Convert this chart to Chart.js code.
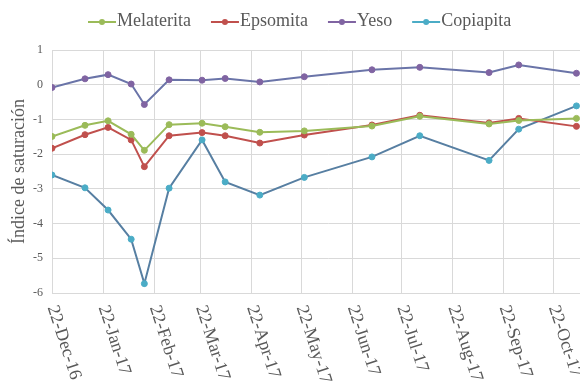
<!DOCTYPE html>
<html>
<head>
<meta charset="utf-8">
<script src="https://cdn.jsdelivr.net/npm/chart.js@4/dist/chart.umd.min.js"></script>
<style>
  body { margin: 0; overflow: hidden; background: #fff; }
  #wrap { position: relative; width: 620px; height: 385px; }
</style>
</head>
<body>
<div id="wrap"><canvas id="satChart"></canvas></div>
<script>
// sampling dates
const sampleDates = ['2016-12-22', '2017-01-11', '2017-01-25', '2017-02-08', '2017-02-16', '2017-03-03',
    '2017-03-23', '2017-04-06', '2017-04-27', '2017-05-24', '2017-07-04', '2017-08-02',
    '2017-09-13', '2017-10-01', '2017-11-05'];

// saturation index per mineral
const melaterita = [-1.49, -1.17, -1.04, -1.43, -1.89, -1.15, -1.11, -1.21, -1.37, -1.33, -1.19, -0.91, -1.13, -1.03, -0.97];
const epsomita = [-1.83, -1.44, -1.23, -1.59, -2.36, -1.47, -1.38, -1.47, -1.68, -1.45, -1.16, -0.88, -1.10, -0.97, -1.20];
const yeso = [-0.08, 0.17, 0.29, 0.02, -0.57, 0.14, 0.13, 0.18, 0.08, 0.23, 0.43, 0.50, 0.35, 0.57, 0.33];
const copiapita = [-2.60, -2.97, -3.61, -4.45, -5.73, -2.98, -1.59, -2.80, -3.18, -2.67, -2.08, -1.47, -2.18, -1.28, -0.61];

// x axis ticks (22nd of each month)
const tickDates = ['2016-12-22', '2017-01-22', '2017-02-22', '2017-03-22', '2017-04-22', '2017-05-22',
    '2017-06-22', '2017-07-22', '2017-08-22', '2017-09-22', '2017-10-22', '2017-11-22'];
const tickLabels = ['22-Dec-16', '22-Jan-17', '22-Feb-17', '22-Mar-17', '22-Apr-17', '22-May-17',
    '22-Jun-17', '22-Jul-17', '22-Aug-17', '22-Sep-17', '22-Oct-17', '22-Nov-17'];

const startDate = Date.parse(sampleDates[0]);
const toDays = d => (Date.parse(d) - startDate) / 86400000;
const sampleDays = sampleDates.map(toDays);
const tickDays = tickDates.map(toDays);

const fontFamily = '"Liberation Serif", "DejaVu Serif", serif';
const textColor = '#595959';
const gridColor = '#d9d9d9';

const toPoints = values => values.map((v, i) => ({ x: sampleDays[i], y: v }));

const makeSet = (label, values, lineColor, markColor) => ({
    label: label,
    data: toPoints(values),
    borderColor: lineColor,
    borderWidth: 2,
    pointBackgroundColor: markColor,
    pointBorderColor: markColor,
    pointBorderWidth: 1,
    pointRadius: 3,
    tension: 0
});

// rotated tick labels, reading downwards like the original
const xLabels = {
    id: 'xLabels',
    afterDraw(chart) {
        const { ctx } = chart;
        const x = chart.scales.x;
        ctx.save();
        ctx.font = '18px ' + fontFamily;
        ctx.fillStyle = textColor;
        ctx.textAlign = 'left';
        ctx.textBaseline = 'middle';
        tickDays.forEach((d, i) => {
            ctx.save();
            ctx.translate(x.getPixelForValue(d), x.top + 13);
            ctx.rotate(72 * Math.PI / 180);
            ctx.fillText(tickLabels[i], 0, 0);
            ctx.restore();
        });
        ctx.restore();
    }
};

// legend with line + marker
const lineLegend = {
    id: 'lineLegend',
    afterDraw(chart) {
        const { ctx } = chart;
        let x = 88;
        const y = 22;
        ctx.save();
        ctx.font = '18px ' + fontFamily;
        ctx.textBaseline = 'middle';
        chart.data.datasets.forEach(ds => {
            ctx.strokeStyle = ds.pointBackgroundColor;
            ctx.lineWidth = 2;
            ctx.beginPath();
            ctx.moveTo(x, y);
            ctx.lineTo(x + 28, y);
            ctx.stroke();
            ctx.fillStyle = ds.pointBackgroundColor;
            ctx.beginPath();
            ctx.arc(x + 14, y, 3, 0, Math.PI * 2);
            ctx.fill();
            ctx.fillStyle = textColor;
            ctx.fillText(ds.label, x + 29, y - 1);
            x += 29 + ctx.measureText(ds.label).width + 20;
        });
        ctx.restore();
    }
};

new Chart(document.getElementById('satChart'), {
    type: 'line',
    data: {
        datasets: [
            makeSet('Melaterita', melaterita, '#9bbb59', '#9bbb59'),
            makeSet('Epsomita', epsomita, '#c0504d', '#c0504d'),
            makeSet('Yeso', yeso, '#6a74a8', '#8064a2'),
            makeSet('Copiapita', copiapita, '#577fa2', '#4bacc6')
        ]
    },
    options: {
        responsive: true,
        maintainAspectRatio: false,
        animation: false,
        layout: { padding: { top: 50, right: 15.5, left: 0, bottom: 0 } },
        plugins: {
            legend: { display: false },
            tooltip: { enabled: false }
        },
        scales: {
            x: {
                type: 'linear',
                min: 0,
                max: tickDays[tickDays.length - 1],
                grid: { color: gridColor, drawTicks: false },
                border: { color: gridColor },
                ticks: { display: false },
                afterBuildTicks: scale => { scale.ticks = tickDays.map(v => ({ value: v })); },
                afterFit: scale => { scale.height = 92; }
            },
            y: {
                min: -6,
                max: 1,
                grid: { color: gridColor, drawTicks: false },
                border: { color: gridColor },
                ticks: {
                    stepSize: 1,
                    padding: 9,
                    color: textColor,
                    font: { family: fontFamily, size: 12 }
                },
                title: {
                    display: true,
                    text: 'Índice de saturación',
                    color: textColor,
                    font: { family: fontFamily, size: 18 },
                    padding: { top: 8, bottom: 0 }
                },
                afterFit: scale => { scale.width = 52; }
            }
        }
    },
    plugins: [xLabels, lineLegend]
});
</script>
</body>
</html>
